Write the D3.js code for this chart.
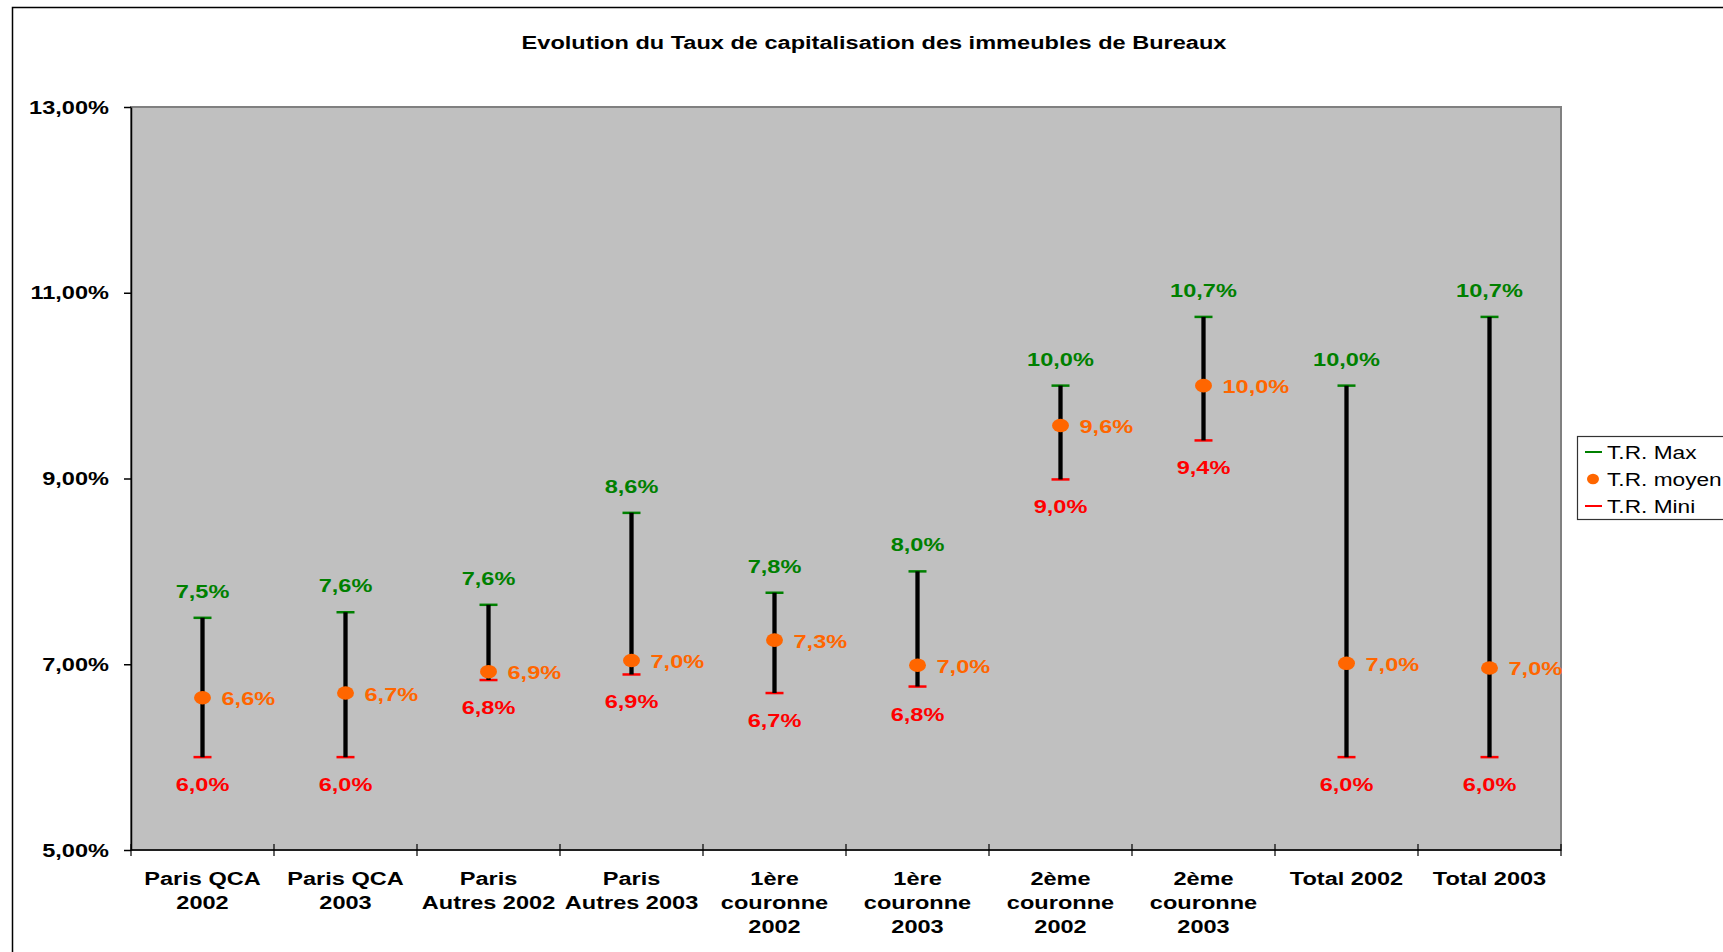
<!DOCTYPE html>
<html>
<head>
<meta charset="utf-8">
<script src="https://cdn.jsdelivr.net/npm/d3@7"></script>
<style>
  body { margin: 0; background: #fff; }
  text { font-family: "Liberation Sans", Arial, sans-serif; }
</style>
</head>
<body>
<svg id="chart"></svg>
<script>
// data (percent)
const categories = ["PQ02", "PQ03", "PA02", "PA03", "C102", "C103", "C202", "C203", "T02", "T03"];
const categoryLabels = [
    ["Paris QCA", "2002"], ["Paris QCA", "2003"],
    ["Paris", "Autres 2002"], ["Paris", "Autres 2003"],
    ["1ère", "couronne", "2002"], ["1ère", "couronne", "2003"],
    ["2ème", "couronne", "2002"], ["2ème", "couronne", "2003"],
    ["Total 2002"], ["Total 2003"]
];
const maxVals  = [7.50, 7.56, 7.64, 8.63, 7.77, 8.00, 10.00, 10.74, 10.00, 10.74];
const meanVals = [6.64, 6.69, 6.92, 7.04, 7.26, 6.99, 9.57, 10.00, 7.01, 6.96];
const minVals  = [6.00, 6.00, 6.83, 6.89, 6.69, 6.76, 8.99, 9.41, 6.00, 6.00];
const yTicks = [5, 7, 9, 11, 13];
const legendNames = ["T.R. Max", "T.R. moyen", "T.R. Mini"];

const W = 1723, H = 952;
const SX = 1.24; // the original text is stretched sideways
const green = "#008000", orange = "#FF6600", red = "#FF0000";

const svg = d3.select("#chart").attr("width", W).attr("height", H);

// outer frame
svg.append("rect")
    .attr("x", 12.5).attr("y", 7.5)
    .attr("width", 2000).attr("height", 2000)
    .attr("fill", "none").attr("stroke", "#000").attr("stroke-width", 1.5);

const plot = {left: 131, right: 1561, top: 107, bottom: 850};

const x = d3.scaleBand().domain(categories).range([plot.left, plot.right]).padding(0);
const y = d3.scaleLinear().domain([5, 13]).range([plot.bottom, plot.top]);

function stext(parent, px, py, str, o) {
    return parent.append("text")
        .attr("transform", `translate(${px},${py}) scale(${SX},1)`)
        .attr("text-anchor", o.anchor || "middle")
        .attr("font-size", o.size || 19)
        .attr("font-weight", o.weight || "bold")
        .attr("fill", o.color || "#000")
        .text(str);
}
const pct1 = v => d3.format(".1f")(v).replace(".", ",") + "%";
const pct2 = v => d3.format(".2f")(v).replace(".", ",") + "%";

// plot background
svg.append("rect")
    .attr("x", plot.left).attr("y", plot.top)
    .attr("width", plot.right - plot.left).attr("height", plot.bottom - plot.top)
    .attr("fill", "#C0C0C0").attr("stroke", "#808080").attr("stroke-width", 2);

// title
stext(svg, 874, 49, "Evolution du Taux de capitalisation des immeubles de Bureaux", {});

// y axis
const yaxis = d3.axisLeft(y).tickValues(yTicks).tickSize(7).tickSizeOuter(0).tickFormat("");
svg.append("g")
    .attr("transform", `translate(${plot.left},0)`)
    .call(yaxis)
    .call(g => g.selectAll("line, path").attr("stroke", "#000").attr("stroke-width", 1.5));
yTicks.forEach(t => stext(svg, 109, y(t) + 6.5, pct2(t), {anchor: "end"}));

// x axis (ticks cross the line at band edges)
svg.append("line")
    .attr("x1", plot.left).attr("x2", plot.right)
    .attr("y1", plot.bottom).attr("y2", plot.bottom)
    .attr("stroke", "#000").attr("stroke-width", 1.5);
const edges = categories.map(c => x(c)).concat([x(categories[categories.length - 1]) + x.bandwidth()]);
svg.selectAll(".xtick").data(edges).join("line")
    .attr("class", "xtick")
    .attr("x1", d => d).attr("x2", d => d)
    .attr("y1", plot.bottom - 6).attr("y2", plot.bottom + 6)
    .attr("stroke", "#000").attr("stroke-width", 1.2);

categories.forEach((c, i) => {
    const cx = x(c) + x.bandwidth() / 2;
    categoryLabels[i].forEach((line, j) => stext(svg, cx, 884.5 + j * 24, line, {}));
});

// high-low bars
const marks = svg.append("g");
categories.forEach((c, i) => {
    const cx = x(c) + x.bandwidth() / 2;
    marks.append("line")
        .attr("x1", cx - 9).attr("x2", cx + 9)
        .attr("y1", y(maxVals[i])).attr("y2", y(maxVals[i]))
        .attr("stroke", green).attr("stroke-width", 2.5);
    marks.append("line")
        .attr("x1", cx - 9).attr("x2", cx + 9)
        .attr("y1", y(minVals[i])).attr("y2", y(minVals[i]))
        .attr("stroke", red).attr("stroke-width", 2.5);
    marks.append("line")
        .attr("x1", cx).attr("x2", cx)
        .attr("y1", y(maxVals[i])).attr("y2", y(minVals[i]))
        .attr("stroke", "#000").attr("stroke-width", 4.3);
    marks.append("ellipse")
        .attr("cx", cx).attr("cy", y(meanVals[i]))
        .attr("rx", 8.5).attr("ry", 6.8)
        .attr("fill", orange);

    stext(marks, cx, y(maxVals[i]) - 20, pct1(maxVals[i]), {color: green});
    stext(marks, cx, y(minVals[i]) + 34, pct1(minVals[i]), {color: red});
    stext(marks, cx + 19, y(meanVals[i]) + 7.5, pct1(meanVals[i]), {color: orange, anchor: "start"});
});

// legend (cut by the right edge, as in the original)
const legend = svg.append("g");
legend.append("rect")
    .attr("x", 1577.5).attr("y", 436.5)
    .attr("width", 200).attr("height", 83)
    .attr("fill", "#fff").attr("stroke", "#333").attr("stroke-width", 1.2);
const legendY = [452, 479, 506];
const legendColors = [green, orange, red];
legendNames.forEach((name, i) => {
    if (i === 1) {
        legend.append("ellipse")
            .attr("cx", 1593).attr("cy", legendY[i])
            .attr("rx", 6).attr("ry", 5.2).attr("fill", orange);
    } else {
        legend.append("line")
            .attr("x1", 1585).attr("x2", 1602)
            .attr("y1", legendY[i]).attr("y2", legendY[i])
            .attr("stroke", legendColors[i]).attr("stroke-width", 2);
    }
    stext(legend, 1607, legendY[i] + 6.5, name, {anchor: "start", weight: "normal", size: 18.3});
});
</script>
</body>
</html>
